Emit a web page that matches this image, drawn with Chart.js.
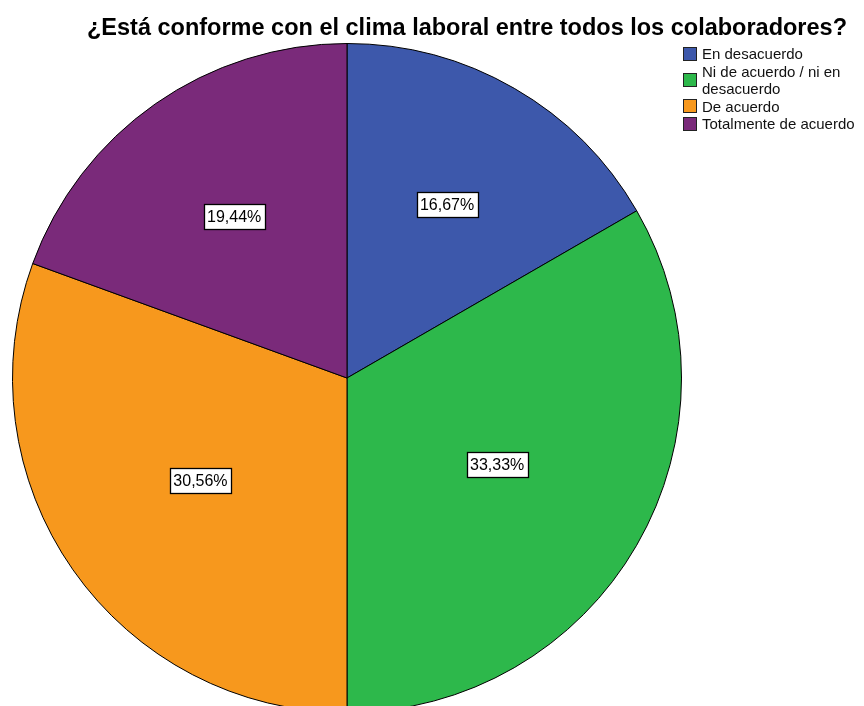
<!DOCTYPE html>
<html>
<head>
<meta charset="utf-8">
<script src="https://cdn.jsdelivr.net/npm/chart.js@4.4.1/dist/chart.umd.min.js"></script>
<style>
  html, body { margin: 0; padding: 0; background: #fff; overflow: hidden; width: 864px; height: 706px; }
  #wrap { position: relative; width: 864px; height: 720px; }
  #c { position: absolute; left: 0; top: 0; }
  #title { position: absolute; left: 0; width: 934px; top: 14px; text-align: center; line-height: 27px;
    font: bold 23.5px "Liberation Sans", Arial, sans-serif; color: #000; white-space: nowrap; }
  #legend { position: absolute; left: 683px; top: 45px; width: 181px;
    font: 15px "Liberation Sans", Arial, sans-serif; color: #111; }
  .item { display: flex; align-items: center; line-height: 17.5px; }
  .sw { width: 12px; height: 12px; border: 1px solid #222; margin-right: 5px; flex: none; }
  .txt { width: 162px; }
</style>
</head>
<body>
<div id="wrap">
  <canvas id="c" width="864" height="720"></canvas>
  <div id="title"></div>
  <div id="legend"></div>
</div>
<script>
const titleText = "¿Está conforme con el clima laboral entre todos los colaboradores?";
const categories = ["En desacuerdo", "Ni de acuerdo / ni en desacuerdo", "De acuerdo", "Totalmente de acuerdo"];
const percentages = [16.67, 33.33, 30.56, 19.44];
const valueLabels = ["16,67%", "33,33%", "30,56%", "19,44%"];
const colors = ["#3d58ab", "#2db84b", "#f7981d", "#7a2a7a"];

document.getElementById('title').textContent = titleText;
const leg = document.getElementById('legend');
categories.forEach((c, i) => {
  const it = document.createElement('div'); it.className = 'item';
  const sw = document.createElement('div'); sw.className = 'sw'; sw.style.background = colors[i];
  const tx = document.createElement('div'); tx.className = 'txt'; tx.textContent = c;
  it.appendChild(sw); it.appendChild(tx); leg.appendChild(it);
});

const labelPlugin = {
  id: 'sliceLabels',
  afterDatasetsDraw(chart) {
    const ctx = chart.ctx;
    const meta = chart.getDatasetMeta(0);
    ctx.save();
    ctx.font = '16px "Liberation Sans", Arial, sans-serif';
    ctx.textAlign = 'center';
    ctx.textBaseline = 'middle';
    meta.data.forEach((arc, i) => {
      const p = arc.getProps(['x', 'y', 'startAngle', 'endAngle', 'outerRadius'], true);
      const mid = (p.startAngle + p.endAngle) / 2;
      const half = (p.endAngle - p.startAngle) / 2;
      // sector centroid distance, pulled slightly inward
      const r = 0.94 * (2 * p.outerRadius * Math.sin(half)) / (3 * half);
      const x = p.x + Math.cos(mid) * r;
      const y = p.y + Math.sin(mid) * r;
      const t = valueLabels[i];
      const w = Math.round(ctx.measureText(t).width + 7);
      const h = 25;
      const bx = Math.round(x - w / 2) + 0.5, by = Math.round(y - h / 2) + 0.5;
      ctx.fillStyle = '#fff';
      ctx.fillRect(bx, by, w, h);
      ctx.strokeStyle = '#000';
      ctx.lineWidth = 1.3;
      ctx.strokeRect(bx, by, w, h);
      ctx.fillStyle = '#000';
      ctx.fillText(t, x, y + 1);
    });
    ctx.restore();
  }
};

new Chart(document.getElementById('c'), {
  type: 'pie',
  data: {
    labels: categories,
    datasets: [{
      data: percentages,
      backgroundColor: colors,
      borderColor: '#000',
      borderWidth: 1,
      hoverOffset: 0
    }]
  },
  options: {
    responsive: false,
    animation: false,
    layout: { padding: { left: 12, right: 182, top: 43, bottom: 7 } },
    plugins: { legend: { display: false }, title: { display: false }, tooltip: { enabled: false } }
  },
  plugins: [labelPlugin]
});
</script>
</body>
</html>
